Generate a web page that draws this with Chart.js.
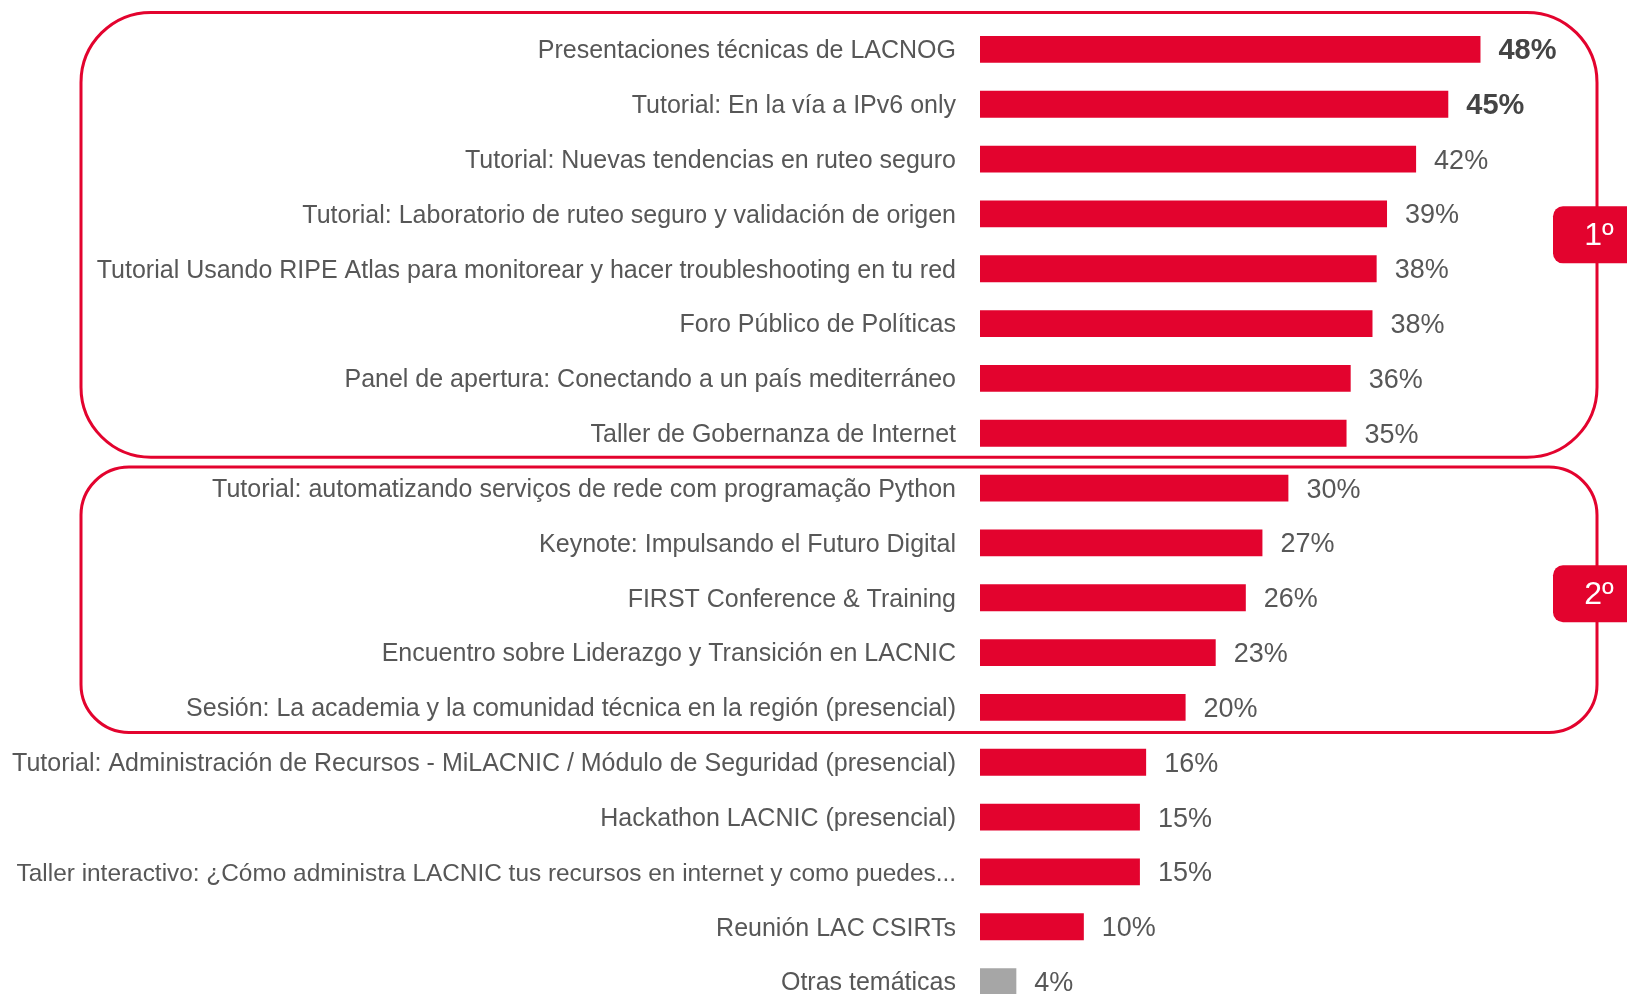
<!DOCTYPE html>
<html>
<head>
<meta charset="utf-8">
<script src="https://cdn.jsdelivr.net/npm/chart.js@4/dist/chart.umd.min.js"></script>
<style>
    html, body { margin: 0; padding: 0; background: #fff; overflow: hidden; }
    #graph_page { width: 1627px; height: 994px; overflow: hidden; }
    #graph_chart { display: block; }
</style>
</head>
<body>
<div id="graph_page"><canvas id="graph_chart" width="1627" height="1010"></canvas></div>
<script>
const categories = [
    'Presentaciones técnicas de LACNOG',
    'Tutorial: En la vía a IPv6 only',
    'Tutorial: Nuevas tendencias en ruteo seguro',
    'Tutorial: Laboratorio de ruteo seguro y validación de origen',
    'Tutorial Usando RIPE Atlas para monitorear y hacer troubleshooting en tu red',
    'Foro Público de Políticas',
    'Panel de apertura: Conectando a un país mediterráneo',
    'Taller de Gobernanza de Internet',
    'Tutorial: automatizando serviços de rede com programação Python',
    'Keynote: Impulsando el Futuro Digital',
    'FIRST Conference & Training',
    'Encuentro sobre Liderazgo y Transición en LACNIC',
    'Sesión: La academia y la comunidad técnica en la región (presencial)',
    'Tutorial: Administración de Recursos - MiLACNIC / Módulo de Seguridad (presencial)',
    'Hackathon LACNIC (presencial)',
    'Taller interactivo: ¿Cómo administra LACNIC tus recursos en internet y como puedes...',
    'Reunión LAC CSIRTs',
    'Otras temáticas'
];
const values = [48.2, 45.1, 42.0, 39.2, 38.2, 37.8, 35.7, 35.3, 29.7, 27.2, 25.6, 22.7, 19.8, 16.0, 15.4, 15.4, 10.0, 3.5];
const groupStart = [0, 8];
const groupEnd = [7, 12];
const groupTitles = ['1º', '2º'];

const red = '#E3032E';
const grey = '#A6A6A6';
const textColor = '#575757';
const font = '"Liberation Sans", Arial, sans-serif';

// recuadros redondeados + etiqueta 1º / 2º
const groupBoxes = {
    id: 'groupBoxes',
    afterDraw(chart, args, opts) {
        const ctx = chart.ctx;
        const y = chart.scales.y;
        opts.boxes.forEach((box, i) => {
            const top = y.getPixelForValue(groupStart[i]) - box.padTop;
            const bottom = y.getPixelForValue(groupEnd[i]) + box.padBottom;
            ctx.save();
            ctx.strokeStyle = red;
            ctx.lineWidth = 3;
            ctx.beginPath();
            ctx.roundRect(opts.left, top, opts.right - opts.left, bottom - top, box.radius);
            ctx.stroke();

            const cy = (top + bottom) / 2 + box.badgeShift;
            ctx.fillStyle = red;
            ctx.beginPath();
            ctx.roundRect(opts.badgeLeft, cy - 28.5, 95, 57, 10);
            ctx.fill();
            ctx.fillStyle = '#fff';
            ctx.font = `32px ${font}`;
            ctx.textAlign = 'center';
            ctx.textBaseline = 'middle';
            ctx.fillText(groupTitles[i], opts.badgeText, cy + 1);
            ctx.restore();
        });
    }
};

// porcentajes al final de cada barra
const valueLabels = {
    id: 'valueLabels',
    afterDatasetsDraw(chart) {
        const ctx = chart.ctx;
        const meta = chart.getDatasetMeta(0);
        ctx.save();
        ctx.textAlign = 'left';
        ctx.textBaseline = 'middle';
        meta.data.forEach((bar, index) => {
            const top = index < 2;
            ctx.font = top ? `bold 29px ${font}` : `27px ${font}`;
            ctx.fillStyle = top ? '#444' : textColor;
            ctx.fillText(`${Math.round(values[index])}%`, bar.x + 18, bar.y + 2);
        });
        ctx.restore();
    }
};

new Chart(document.getElementById('graph_chart'), {
    type: 'bar',
    data: {
        labels: categories,
        datasets: [{
            data: values,
            backgroundColor: categories.map(c => c === 'Otras temáticas' ? grey : red),
            categoryPercentage: 1,
            barPercentage: 0.49
        }]
    },
    options: {
        indexAxis: 'y',
        responsive: false,
        animation: false,
        layout: { padding: { top: 22, bottom: 1, left: 0, right: 24 } },
        plugins: {
            legend: { display: false },
            tooltip: { enabled: false },
            groupBoxes: {
                left: 81, right: 1597, badgeLeft: 1553, badgeText: 1599,
                boxes: [
                    { padTop: 37, padBottom: 24, radius: 70, badgeShift: 0 },
                    { padTop: 21, padBottom: 25, radius: 48, badgeShift: -6 }
                ]
            }
        },
        scales: {
            x: { min: 0, max: 60, display: false },
            y: {
                grid: { display: false, drawTicks: false },
                border: { display: false },
                afterFit: scale => {
                    scale.width = 980;
                    // sin margen extra arriba/abajo por las etiquetas
                    scale.paddingTop = 0;
                    scale.paddingBottom = 0;
                },
                ticks: {
                    autoSkip: false,
                    padding: 24,
                    labelOffset: 2,
                    color: textColor,
                    font: ctx => ({ family: font, size: ctx.index === 15 ? 24.4 : 25 })
                }
            }
        }
    },
    plugins: [groupBoxes, valueLabels]
});
</script>
</body>
</html>
